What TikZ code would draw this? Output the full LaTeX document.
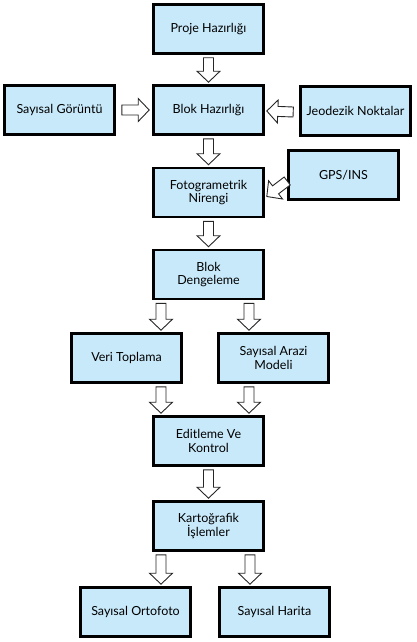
\documentclass[tikz,border=0pt]{standalone}
\usepackage{fontspec}
\setmainfont{Lato}
\usetikzlibrary{calc}

\definecolor{boxblue}{RGB}{200,233,250}

\tikzset{
    box/.style={draw=black, line width=2.6pt, fill=boxblue, minimum width=110pt,
        minimum height=49pt, align=center, font=\fontsize{12.5}{13.5}\selectfont},
    % hollow block arrow from start to target
    hollow/.style={draw=black!85, fill=white, line width=0.9pt, line join=miter,
        to path={
            ($(\tikztostart)!5pt!90:(\tikztotarget)$)
            -- ($($(\tikztotarget)!11pt!(\tikztostart)$)!5pt!90:(\tikztotarget)$)
            -- ($($(\tikztotarget)!11pt!(\tikztostart)$)!11.5pt!90:(\tikztotarget)$)
            -- (\tikztotarget)
            -- ($($(\tikztotarget)!11pt!(\tikztostart)$)!11.5pt!-90:(\tikztotarget)$)
            -- ($($(\tikztotarget)!11pt!(\tikztostart)$)!5pt!-90:(\tikztotarget)$)
            -- ($(\tikztostart)!5pt!-90:(\tikztotarget)$)
            -- cycle}}
}

\begin{document}
\begin{tikzpicture}[x=1pt, y=-1pt]
    \useasboundingbox (0,0) rectangle (417,642);

    % Boxes
    \node[box] (proje) at (208.5, 29) {Proje Hazırlığı};
    \node[box] (gorun) at (59.5, 110) {Sayısal Görüntü};
    \node[box] (blok) at (208.5, 110) {Blok Hazırlığı};
    \node[box] (jeod) at (355.5, 111) {Jeodezik Noktalar};
    \node[box] (foto) at (208.5, 192.5) {Fotogrametrik\\Nirengi};
    \node[box] (gps) at (343.5, 175) {GPS/INS};
    \node[box] (deng) at (208.5, 274.5) {Blok\\Dengeleme};
    \node[box] (veri) at (126.5, 358) {Veri Toplama};
    \node[box] (dtm) at (273.5, 358) {Sayısal Arazi\\Modeli};
    \node[box] (edit) at (208.5, 441) {Editleme Ve\\Kontrol};
    \node[box] (kart) at (208.5, 526) {Kartoğrafik\\İşlemler};
    \node[box] (orto) at (135.5, 612) {Sayısal Ortofoto};
    \node[box] (harita) at (274.5, 612) {Sayısal Harita};

    % Helper points for the split arrows
    \coordinate (d1) at ([xshift=-47.5pt]deng.south);
    \coordinate (d2) at ([xshift=40.5pt]deng.south);
    \coordinate (v1) at ([xshift=-47.5pt]edit.north);
    \coordinate (v2) at ([xshift=40.5pt]edit.north);
    \coordinate (k1) at ([xshift=-47.5pt]kart.south);
    \coordinate (k2) at ([xshift=41.5pt]kart.south);

    % Arrows
    \draw[hollow] ([yshift=-3pt]proje.south) to ([yshift=2pt]blok.north);
    \draw[hollow] ([xshift=6pt]gorun.east) to ([xshift=-3pt]blok.west);
    \draw[hollow] ([xshift=-6pt,yshift=-1pt]jeod.west) to ([xshift=2pt,yshift=-1pt]blok.east);
    \draw[hollow] ([yshift=-3pt]blok.south) to ([yshift=2pt]foto.north);
    \draw[hollow] ([yshift=-6pt]gps.west) to ([xshift=2pt,yshift=-4pt]foto.east);
    \draw[hollow] ([yshift=-3pt]foto.south) to ([yshift=2pt]deng.north);
    \draw[hollow] ([yshift=-3pt]d1) to ([yshift=2pt]d1 |- veri.north);
    \draw[hollow] ([yshift=-3pt]d2) to ([yshift=2pt]d2 |- dtm.north);
    \draw[hollow] ([yshift=-3pt]v1 |- veri.south) to ([yshift=2pt]v1);
    \draw[hollow] ([yshift=-3pt]v2 |- dtm.south) to ([yshift=2pt]v2);
    \draw[hollow] ([yshift=-3pt]edit.south) to ([yshift=2pt]kart.north);
    \draw[hollow] ([yshift=-3pt]k1) to ([yshift=2pt]k1 |- orto.north);
    \draw[hollow] ([yshift=-3pt]k2) to ([yshift=2pt]k2 |- harita.north);
\end{tikzpicture}
\end{document}
